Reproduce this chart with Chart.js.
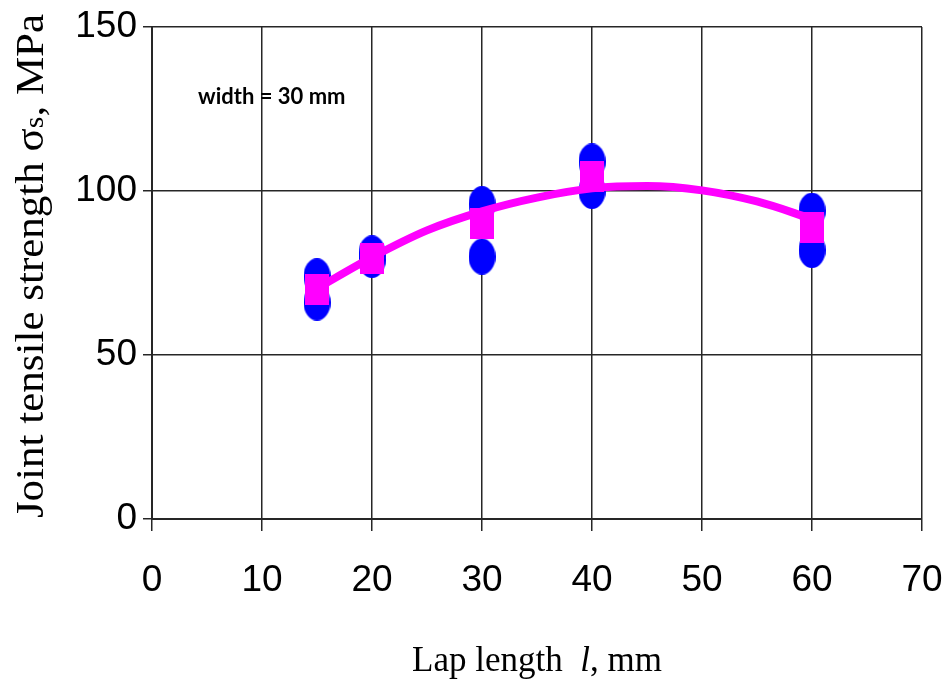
<!DOCTYPE html>
<html>
<head>
<meta charset="utf-8">
<title>Joint tensile strength vs lap length</title>
<script src="https://cdn.jsdelivr.net/npm/chart.js@4.4.1/dist/chart.umd.min.js"></script>
<style>
  html, body { margin: 0; padding: 0; background: #ffffff; }
  #wrap { width: 945px; height: 682px; }
</style>
</head>
<body>
<div id="wrap"><canvas id="chart" width="945" height="682"></canvas></div>
<script>
// Individual specimen results (blue)
const specimenLap = [15, 15, 20, 20, 30, 30, 40, 40, 60, 60];
const specimenStrength = [66, 74, 79, 81, 80, 96, 100, 109, 82, 94];

// Mean strength for each lap length (magenta squares)
const meanLap = [15, 20, 30, 40, 60];
const meanStrength = [70, 79.5, 90, 104.5, 89];

// Trend curve through the means
const trendLap = [15, 20, 25, 30, 35, 40, 45, 50, 55, 60];
const trendStrength = [70.3, 79.8, 88, 93.8, 98, 100.8, 101.5, 100.2, 96.8, 91.5];

// Axis ticks
const xTicks = [0, 10, 20, 30, 40, 50, 60, 70];
const yTicks = [0, 50, 100, 150];

const noteText = 'width = 30 mm';

function makeMarker(w, h, color, shape) {
  const c = document.createElement('canvas');
  c.width = w; c.height = h;
  const g = c.getContext('2d');
  g.fillStyle = color;
  if (shape === 'ellipse') {
    g.beginPath();
    g.ellipse(w / 2, h / 2, w / 2, h / 2, 0, 0, Math.PI * 2);
    g.fill();
  } else {
    g.fillRect(0, 0, w, h);
  }
  return c;
}

const blueDot = makeMarker(27, 36, '#0000ff', 'ellipse');
const pinkBox = makeMarker(24, 31, '#ff00ff', 'rect');

const toPoints = (xs, ys) => xs.map((x, i) => ({ x: x, y: ys[i] }));

const gridColor = '#262626';
const serif = '"Liberation Serif", "Times New Roman", serif';

// Axis titles and the note, drawn on top of the plot
const textPlugin = {
  id: 'textPlugin',
  afterDraw(chart) {
    const ctx = chart.ctx;
    const area = chart.chartArea;
    ctx.save();
    ctx.fillStyle = '#000000';

    // x title with italic "l"
    const parts = [
      { t: 'Lap length  ', f: '35px ' + serif },
      { t: 'l', f: 'italic 35px ' + serif },
      { t: ', mm', f: '35px ' + serif }
    ];
    let total = 0;
    parts.forEach(p => { ctx.font = p.f; p.w = ctx.measureText(p.t).width; total += p.w; });
    let x = (area.left + area.right) / 2 - total / 2;
    ctx.textBaseline = 'alphabetic';
    ctx.textAlign = 'left';
    parts.forEach(p => { ctx.font = p.f; ctx.fillText(p.t, x, 671); x += p.w; });

    // y title, rotated
    ctx.save();
    ctx.translate(43, 266);
    ctx.rotate(-Math.PI / 2);
    ctx.scale(1, 0.92);
    const yParts = [
      { t: 'Joint tensile strength ', f: '43px ' + serif },
      { t: '\u03C3', f: '43px ' + serif },
      { t: 's', f: '30px ' + serif },
      { t: ', MPa', f: '43px ' + serif }
    ];
    let yt = 0;
    yParts.forEach(p => { ctx.font = p.f; p.w = ctx.measureText(p.t).width; yt += p.w; });
    let yx = -yt / 2;
    yParts.forEach(p => { ctx.font = p.f; ctx.fillText(p.t, yx, 0); yx += p.w; });
    ctx.restore();

    // note in the upper-left of the plot
    ctx.font = 'bold 22px Lato, "Liberation Sans", sans-serif';
    ctx.textBaseline = 'middle';
    ctx.fillText(noteText, 198, 97);
    ctx.restore();
  }
};

new Chart(document.getElementById('chart'), {
  type: 'scatter',
  data: {
    datasets: [
      {
        label: 'Mean',
        data: toPoints(meanLap, meanStrength),
        pointStyle: pinkBox,
        pointRadius: 12,
        pointHoverRadius: 12,
        order: 1
      },
      {
        type: 'line',
        label: 'Trend',
        data: toPoints(trendLap, trendStrength),
        borderColor: '#ff00ff',
        borderWidth: 8,
        borderCapStyle: 'round',
        borderJoinStyle: 'round',
        tension: 0.4,
        cubicInterpolationMode: 'monotone',
        pointRadius: 0,
        pointHoverRadius: 0,
        fill: false,
        order: 2
      },
      {
        label: 'Specimens',
        data: toPoints(specimenLap, specimenStrength),
        pointStyle: blueDot,
        pointRadius: 13,
        pointHoverRadius: 13,
        order: 3
      }
    ]
  },
  options: {
    responsive: false,
    animation: false,
    devicePixelRatio: 1,
    layout: { padding: { left: 0, top: 27, right: 23, bottom: 0 } },
    plugins: {
      legend: { display: false },
      tooltip: { enabled: false },
      title: { display: false }
    },
    scales: {
      x: {
        type: 'linear',
        min: 0,
        max: 70,
        afterBuildTicks(scale) { scale.ticks = xTicks.map(v => ({ value: v })); },
        afterFit(scale) {
          scale.height = 163;
          scale.paddingLeft = 0;
          scale.paddingRight = 0;
        },
        ticks: {
          color: '#000000',
          font: { family: '"Liberation Sans", Arial, sans-serif', size: 37 },
          padding: 28,
          maxRotation: 0,
          autoSkip: false
        },
        grid: { color: gridColor, lineWidth: 1.5, tickLength: 12, drawTicks: true },
        border: { display: true, color: gridColor, width: 2 }
      },
      y: {
        type: 'linear',
        min: 0,
        max: 150,
        afterBuildTicks(scale) { scale.ticks = yTicks.map(v => ({ value: v })); },
        afterFit(scale) {
          scale.width = 152;
          scale.paddingTop = 0;
          scale.paddingBottom = 0;
        },
        ticks: {
          color: '#000000',
          font: { family: '"Liberation Sans", Arial, sans-serif', size: 37 },
          padding: 6,
          autoSkip: false
        },
        grid: { color: gridColor, lineWidth: 1.5, tickLength: 9, drawTicks: true },
        border: { display: true, color: gridColor, width: 2 }
      }
    }
  },
  plugins: [textPlugin]
});
</script>
</body>
</html>
